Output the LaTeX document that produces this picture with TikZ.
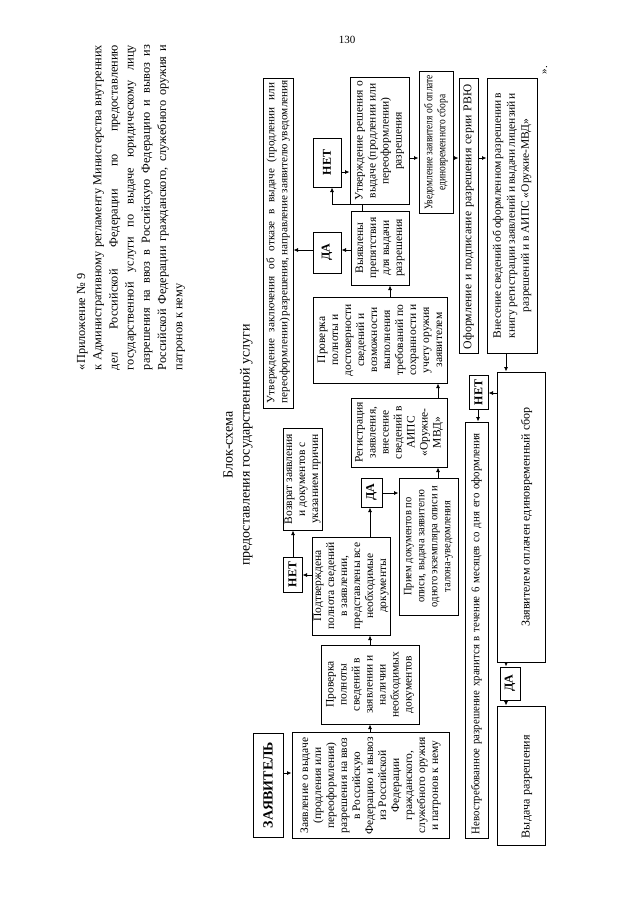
\documentclass[tikz,border=0pt]{standalone}
\usepackage{fontspec}
\setmainfont{Liberation Serif}
\newfontfamily\cfa[FakeStretch=0.82]{Liberation Serif}
\newfontfamily\cfc[FakeStretch=0.93]{Liberation Serif}
\usetikzlibrary{arrows.meta}
\newcommand\rbox[7]{%
  \pgfmathsetmacro\rbw{#5-#3}%
  \pgfmathsetmacro\rbh{#4-#2}%
  \pgfmathsetmacro\rbx{(#2+#4)/2}%
  \pgfmathsetmacro\rby{(#3+#5)/2}%
  \node[bx,minimum width=\rbw pt,minimum height=\rbh pt,#6] (#1) at (\rbx,\rby) {#7};%
}
\begin{document}
\begin{tikzpicture}[x=1pt,y=-1pt,
  bx/.style={draw,line width=1pt,rotate=90,inner xsep=4pt,inner ysep=1pt,align=center,font=\fontsize{11.5}{13}\selectfont},
  yn/.style={font=\bfseries\fontsize{12}{14}\selectfont},
  arr/.style={line width=0.8pt,-{Latex[length=4.5pt,width=4pt]}}]
\useasboundingbox[fill=white] (0,0) rectangle (640,905);
\node[font=\fontsize{11}{13}\selectfont] (pg) at (347,40) {130};
\node[rotate=90,font=\fontsize{12.3}{16.2}\selectfont,align=left,inner sep=0pt] (hdr) at (131,207.5)
 {\makebox[325pt][l]{«Приложение № 9}\\
  \makebox[325pt][s]{к Административному регламенту Министерства внутренних}\\
  \makebox[325pt][s]{дел Российской Федерации по предоставлению}\\
  \makebox[325pt][s]{государственной услуги по выдаче юридическому лицу}\\
  \makebox[325pt][s]{разрешения на ввоз в Российскую Федерацию и вывоз из}\\
  \makebox[325pt][s]{Российской Федерации гражданского, служебного оружия и}\\
  \makebox[325pt][l]{патронов к нему}};
\node[rotate=90,font=\fontsize{14}{17}\selectfont,align=center] (ttl) at (238,445)
 {Блок-схема\\предоставления государственной услуги};
% left part
\rbox{zyt}{253}{733}{283}{837}{font=\bfseries\fontsize{14}{17}\selectfont}{ЗАЯВИТЕЛЬ}
\rbox{zyl}{292}{733}{449}{838}{}{Заявление о выдаче\\(продления или\\переоформления)\\разрешения на ввоз\\в Российскую\\Федерацию и вывоз\\из Российской\\Федерации\\гражданского,\\служебного оружия\\и патронов к нему}
\rbox{pr1}{321}{645}{419}{724}{}{Проверка\\полноты\\сведений в\\заявлении и\\наличии\\необходимых\\документов}
\rbox{pod}{312}{537}{390}{635}{}{Подтверждена\\полнота сведений\\в заявлении,\\представлены все\\необходимые\\документы}
\rbox{ne1}{283}{557}{302}{592}{yn}{НЕТ}
\rbox{voz}{283}{428}{322}{530}{}{Возврат заявления\\и документов с\\указанием причин}
\rbox{da1}{361}{478}{382}{507}{yn}{ДА}
\rbox{pri}{399}{478}{458}{615}{font=\cfc\fontsize{11.3}{13}\selectfont}{Прием документов по\\описи, выдача заявителю\\одного экземпляра описи и\\талона-уведомления}
\rbox{reg}{351}{398}{447}{467}{}{Регистрация\\заявления,\\внесение\\сведений в\\АИПС\\«Оружие-\\МВД»}
\rbox{pr2}{313}{297}{447}{383}{}{Проверка\\полноты и\\достоверности\\сведений и\\возможности\\выполнения\\требований по\\сохранности и\\учету оружия\\заявителем}
\rbox{vyy}{351}{211}{409}{285}{}{Выявлены\\препятствия\\для выдачи\\разрешения}
\rbox{da2}{313}{232}{341}{273}{yn}{ДА}
\rbox{ne2}{313}{138}{341}{187}{yn}{НЕТ}
\rbox{utz}{263}{78}{293}{408}{font=\fontsize{11.2}{13}\selectfont}{\makebox[320pt][s]{Утверждение заключения об отказе в выдаче (продлении или}\\\makebox[320pt][s]{переоформлении) разрешения, направление заявителю уведомления}}
\rbox{utr}{350}{78}{409}{204}{}{Утверждение решения о\\выдаче (продлении или\\переоформлении)\\разрешения}
\rbox{uve}{419}{78}{453}{207}{font=\cfa\fontsize{11.5}{13}\selectfont}{Уведомление заявителя об оплате\\единовременного сбора}
\rbox{ofo}{459}{78}{478}{353}{align=left,text width=267pt,font=\fontsize{11.8}{13}\selectfont}{Оформление и подписание разрешения серии РВЮ}
\rbox{vne}{487}{78}{537}{353}{font=\fontsize{11.5}{14}\selectfont}{\makebox[245pt][s]{Внесение сведений об оформленном разрешении в}\\\makebox[245pt][s]{книгу регистрации заявлений и выдачи лицензий и}\\разрешений и в АИПС «Оружие-МВД»}
\node[rotate=90,font=\fontsize{11}{13}\selectfont,inner sep=0pt] (clq) at (545,70) {».};
% right part
\rbox{ne3}{469}{376}{488}{409}{yn}{НЕТ}
\rbox{nev}{465}{422}{488}{838}{align=left,text width=408pt,font=\cfc\fontsize{11.6}{13}\selectfont}{\mbox{Невостребованное разрешение хранится в течение 6 месяцев со дня его оформления}}
\rbox{zop}{497}{372}{545}{662}{text height=20pt,text depth=3pt,font=\fontsize{12}{13}\selectfont}{Заявителем оплачен единовременный сбор}
\rbox{da3}{500}{667}{520}{700}{yn}{ДА}
\rbox{vyd}{497}{706}{545}{845}{align=left,text width=125pt,text height=20pt,text depth=3pt,font=\fontsize{12}{13}\selectfont}{Выдача разрешения}
% connectors
\draw[arr] (zyt.south |- 0,773) -- (zyl.north |- 0,773);
\draw[arr] (zyl.east -| 370,0) -- (pr1.west -| 370,0);
\draw[arr] (pr1.east -| 370,0) -- (pod.west -| 370,0);
\draw[arr] (pod.north |- 0,575) -- (ne1.south |- 0,575);
\draw[arr] (ne1.east -| 293,0) -- (voz.west -| 293,0);
\draw[arr] (pod.east -| 370,0) -- (da1.west -| 370,0);
\draw[arr] (da1.south |- 0,493) -- (pri.north |- 0,493);
\draw[arr] (pri.east -| 438,0) -- (reg.west -| 438,0);
\draw[arr] (reg.east -| 438,0) -- (pr2.west -| 438,0);
\draw[arr] (pr2.east -| 390,0) -- (vyy.west -| 390,0);
\draw[arr] (vyy.north |- 0,250) -- (da2.south |- 0,250);
\draw[arr] (da2.north |- 0,250) -- (utz.south |- 0,250);
\draw[arr] (vyy.east -| 362,0) -- ++(0,-6) -| (ne2.west -| 332,0);
\draw[arr] (ne2.south |- 0,172) -- (utr.north |- 0,172);
\draw[arr] (utr.south |- 0,158) -- (uve.north |- 0,158);
\draw[arr] (uve.south |- 0,158) -- (ofo.north |- 0,158);
\draw[arr] (ofo.south |- 0,158) -- (vne.north |- 0,158);
\draw[arr] (vne.west -| 506,0) -- (zop.east -| 506,0);
\draw[arr] (zop.north |- 0,393) -- (ne3.south |- 0,393);
\draw[arr] (ne3.west -| 478,0) -- (nev.east -| 478,0);
\draw[arr] (zop.west -| 506,0) -- (da3.east -| 506,0);
\draw[arr] (da3.west -| 506,0) -- (vyd.east -| 506,0);
\end{tikzpicture}
\end{document}
